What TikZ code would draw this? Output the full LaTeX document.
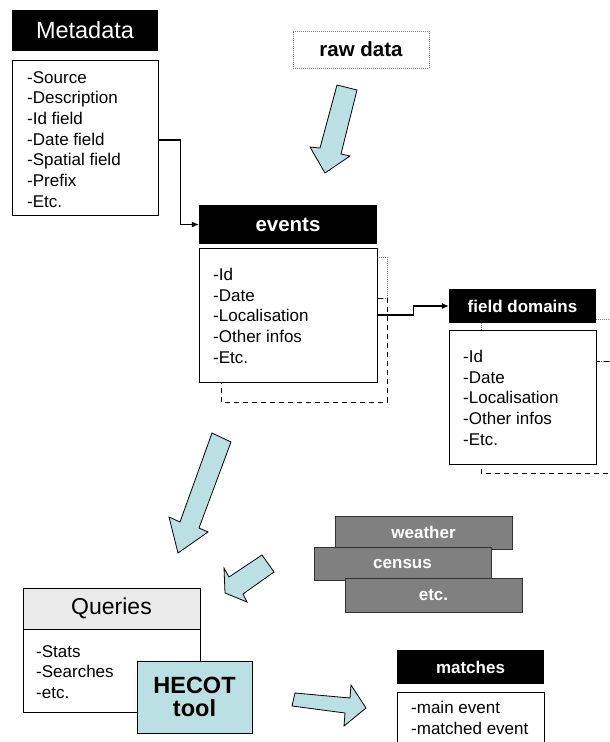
\documentclass[tikz,border=0pt]{standalone}
\usepackage{fontspec}
\setmainfont{Liberation Sans}
\usetikzlibrary{arrows.meta}
\definecolor{arrowblue}{HTML}{BBE0E3}
\definecolor{boxgray}{HTML}{808080}
\definecolor{qgray}{HTML}{EAEAEA}
\begin{document}
\begin{tikzpicture}[x=1pt,y=-1pt,
  box/.style={draw=black, line width=0.9pt, fill=white, inner sep=0pt, rectangle},
  hdr/.style={fill=black, text=white, inner sep=0pt, rectangle, font=\fontsize{17}{20}\selectfont\bfseries},
  lines/.style={inner sep=0pt, anchor=north west, align=left, font=\fontsize{17}{20.7}\selectfont},
  conn/.style={line width=1.1pt, -{Latex[length=7pt,width=6pt]}},
  blockarrow/.style={fill=arrowblue, draw=black, line width=0.8pt, line join=miter},
  graybox/.style={fill=boxgray, draw=black!80, line width=0.9pt, text=white, inner sep=0pt, rectangle, font=\fontsize{17}{20}\selectfont\bfseries},
  shadowdash/.style={line width=0.9pt, dash pattern=on 5pt off 4pt},
  shadowdot/.style={line width=0.8pt, gray, dash pattern=on 1pt off 1pt}
]
\useasboundingbox (0,0) rectangle (610,742);
\clip (0,0) rectangle (610,742);

% Metadata
\node[hdr, minimum width=146pt, minimum height=41pt, font=\fontsize{23.5}{26}\selectfont] (metaH) at (85,30.5) {Metadata};
\node[box, minimum width=146pt, minimum height=155pt] (metaB) at (85,137.5) {};
\node[lines] (metaT) at (27,71) {-Source\\-Description\\-Id field\\-Date field\\-Spatial field\\-Prefix\\-Etc.};

% raw data
\node[draw=gray, shadowdot, text=black, inner sep=0pt, minimum width=136pt, minimum height=37pt, font=\fontsize{20.5}{22}\selectfont\bfseries] (raw) at (361,49.5) {raw data};

% events shadows
\draw[shadowdot] (230,257) rectangle (387,298);
\draw[shadowdash] (221,298) rectangle (387,402);
\node[hdr, minimum width=178pt, minimum height=39pt, font=\fontsize{20.5}{22}\selectfont\bfseries] (eventsH) at (288,224.5) {events};
\node[box, minimum width=178pt, minimum height=134pt] (eventsB) at (288,315) {};
\node[lines] (eventsT) at (213,268) {-Id\\-Date\\-Localisation\\-Other infos\\-Etc.};

% field domains shadows
\draw[shadowdot] (481,319) rectangle (640,361);
\draw[shadowdash] (481,361) rectangle (640,473);
\node[hdr, minimum width=147pt, minimum height=34pt] (fdH) at (522.5,306) {field domains};
\node[box, minimum width=147pt, minimum height=134pt] (fdB) at (522.5,397) {};
\node[lines] (fdT) at (463,350) {-Id\\-Date\\-Localisation\\-Other infos\\-Etc.};

% connectors
\draw[conn] ([yshift=-2.5pt]metaB.east) -- ++(22,0) |- (eventsH.west);
\draw[conn] (eventsB.east) -- ++(36,0) |- (fdH.west);

% block arrows
\draw[blockarrow] (337,85) -- (357,90) -- (341,154) -- (350,156) -- (325,173) -- (310,147) -- (320,148) -- cycle;
\draw[blockarrow] (212,433) -- (231,442) -- (199,528) -- (208,532) -- (178,553) -- (169,517) -- (180,522) -- cycle;
\draw[blockarrow] (262,555) -- (274,572) -- (243,594) -- (247,602) -- (225,593) -- (224,568) -- (229,577) -- cycle;
\draw[blockarrow] (295,693) -- (350,698) -- (351,685) -- (366,708) -- (344,726) -- (345,713) -- (292,706) -- cycle;

% gray boxes
\node[graybox, minimum width=177pt, minimum height=33pt] (weather) at (423.5,532.5) {weather};
\node[graybox, minimum width=177pt, minimum height=33pt] (census) at (402.5,563.5) {census};
\node[graybox, minimum width=177pt, minimum height=34pt] (etc) at (433.5,595) {etc.};

% Queries
\node[box, fill=qgray, minimum width=177pt, minimum height=41pt, font=\fontsize{23}{25}\selectfont] (queriesH) at (111.5,608.5) {Queries};
\node[box, minimum width=177pt, minimum height=83pt] (queriesB) at (111.5,670.5) {};
\node[lines] (queriesT) at (36,645) {-Stats\\-Searches\\-etc.};
\node[box, fill=arrowblue, minimum width=115pt, minimum height=72pt, align=center, font=\fontsize{23.5}{23}\selectfont\bfseries] (hecot) at (194.5,697) {HECOT\\tool};

% matches
\node[hdr, minimum width=147pt, minimum height=34pt] (matchesH) at (470.5,667) {matches};
\node[box, minimum width=147pt, minimum height=78pt] (matchesB) at (470.5,731) {};
\node[lines] (matchesT) at (411,701) {-main event\\-matched event};
\end{tikzpicture}
\end{document}
